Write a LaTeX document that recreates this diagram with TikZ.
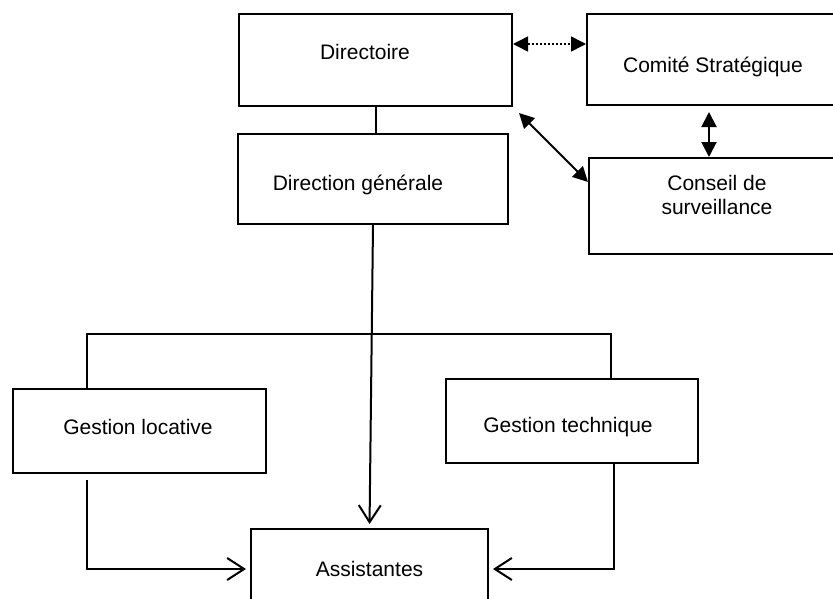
\documentclass[tikz,border=0pt]{standalone}
\usepackage{fontspec}
\setmainfont{Liberation Sans}
\usetikzlibrary{arrows.meta,calc}

\tikzset{
  box/.style={draw, line width=2pt, inner sep=0pt},
  lbl/.style={font=\fontsize{21}{24}\selectfont, inner sep=0pt},
  dbl/.style={{Triangle[length=15pt,width=15pt]}-{Triangle[length=15pt,width=15pt]}, line width=2pt},
  openarrow/.style={-{Straight Barb[length=17pt,width=22pt]}, shorten >=4pt, line width=2pt}
}

\begin{document}
\begin{tikzpicture}[x=1pt,y=-1pt,line width=2pt]
  \useasboundingbox (0,0) rectangle (833,598);

  \node [box, minimum width=273pt, minimum height=92pt] (dir) at (375.5,60) {};
  \node [box, minimum width=270pt, minimum height=90pt] (dg) at (373,179) {};
  \node [box, minimum width=258pt, minimum height=91pt] (comite) at (716,59.5) {};
  \node [box, minimum width=256pt, minimum height=96pt] (conseil) at (717,206) {};
  \node [box, minimum width=253pt, minimum height=84pt] (gl) at (139.5,431) {};
  \node [box, minimum width=252pt, minimum height=84pt] (gt) at (572,421) {};
  \node [box, minimum width=237pt, minimum height=80pt] (assist) at (369.5,569) {};

  \node [lbl] (dirlbl) at (365,52) {Directoire};
  \node [lbl] (dglbl) at (358,185) {Direction générale};
  \node [lbl] (comitelbl) at (713,67) {Comité Stratégique};
  \node [lbl, align=center] (conseillbl) at (717,195) {Conseil de\\surveillance};
  \node [lbl] (gllbl) at (138,427) {Gestion locative};
  \node [lbl] (gtlbl) at (568,427) {Gestion technique};
  \node [lbl] (assistlbl) at (assist.center) {Assistantes};

  \coordinate (link) at (709,0);
  \coordinate (busL) at (87,334);
  \coordinate (busR) at (611,334);

  \draw (dir.south) -- (dir.south |- dg.north);
  \draw [dbl, dotted, line width=1.5pt] ([yshift=16pt]dir.east) -- ([yshift=16pt]dir.east -| comite.west);
  \draw [dbl] ([shift={(6,6)}]dir.south east) -- ([yshift=24pt]conseil.west);
  \draw [dbl] ($(link |- comite.south)+(0,6)$) -- (link |- conseil.north);

  \draw (busL |- gl.north) -- (busL) -- (busR) -- (busR |- gt.north);
  \draw [openarrow] (dg.south) -- (assist.north);
  \draw [openarrow] ($(busL |- gl.south)+(0,6)$) |- (assist.west);
  \draw [openarrow] ($(busR |- gt.south)+(3,0)$) |- (assist.east);
\end{tikzpicture}
\end{document}
